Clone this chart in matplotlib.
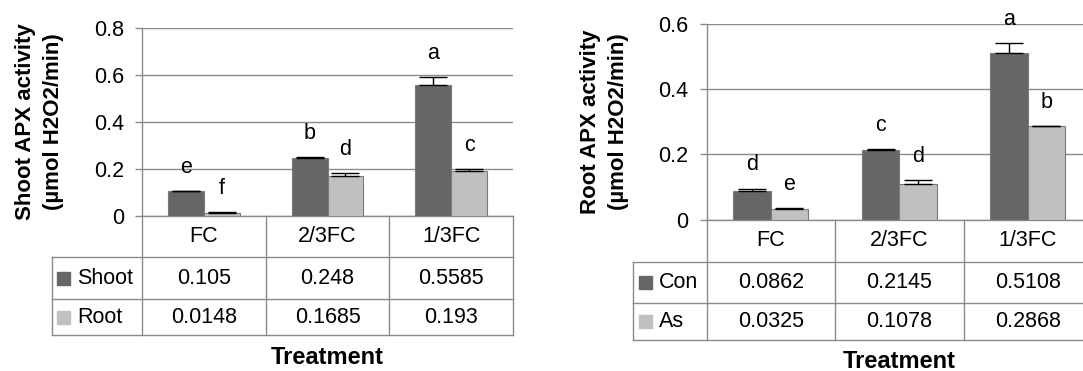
import numpy as np
import matplotlib.pyplot as plt
import matplotlib.ticker as tick
from matplotlib.patches import Rectangle

plt.rcParams['font.family'] = ['Liberation Sans', 'DejaVu Sans']

treatments = ['FC', '2/3FC', '1/3FC']

# left panel: shoot APX
shoot_names = ['Shoot', 'Root']
shoot_vals = [[0.105, 0.248, 0.5585], [0.0148, 0.1685, 0.193]]
shoot_err = [[0.003, 0.004, 0.033], [0.002, 0.014, 0.007]]
shoot_letters = [['e', 'b', 'a'], ['f', 'd', 'c']]

# right panel: root APX
root_names = ['Con', 'As']
root_vals = [[0.0862, 0.2145, 0.5108], [0.0325, 0.1078, 0.2868]]
root_err = [[0.009, 0.0015, 0.031], [0.004, 0.013, 0.001]]
root_letters = [['d', 'c', 'a'], ['e', 'd', 'b']]

colors = ['#666666', '#c0c0c0']
lineCol = '#8a8a8a'

W, H = 1083, 371
fig = plt.figure(figsize=(W / 100, H / 100), dpi=100)


def fx(px):
    return px / W


def fy(py):
    return 1 - py / H


def panel(x0, x1, top, rows, tleft, names, vals, errs, letters,
          ylabel, ymax, ylab_x, treat_y):
    zero = rows[0]
    n = len(treatments)
    ax = fig.add_axes([fx(x0), fy(zero), fx(x1 - x0), (zero - top) / H])
    x = np.arange(n)
    bw = 0.29
    for i in range(len(names)):
        pos = x + (i - 0.5) * bw
        ax.bar(pos, vals[i], bw, color=colors[i], edgecolor='#7a7a7a',
               linewidth=0.8, zorder=3)
        ax.errorbar(pos, vals[i], yerr=[np.zeros(n), errs[i]], fmt='none',
                    ecolor='black', elinewidth=1, capsize=10, capthick=1, zorder=4)
        for p, v, e, lt in zip(pos, vals[i], errs[i], letters[i]):
            ax.annotate(lt, (p, v + e), xytext=(0, 13), textcoords='offset points',
                        ha='center', va='baseline', fontsize=15.5)
    ax.set_xlim(-0.5, n - 0.5)
    ax.set_ylim(0, ymax)
    ax.yaxis.set_major_locator(tick.MultipleLocator(0.2))
    ax.yaxis.set_major_formatter(tick.FuncFormatter(
        lambda v, p: '0' if abs(v) < 1e-9 else '{:.1f}'.format(v)))
    ax.tick_params(axis='y', length=5, width=1, color=lineCol, pad=8, labelsize=15.5)
    ax.tick_params(axis='x', length=0, labelbottom=False)
    ax.yaxis.grid(True, color=lineCol, linewidth=1)
    ax.set_axisbelow(True)
    for s in ['top', 'right']:
        ax.spines[s].set_visible(False)
    for s in ['left', 'bottom']:
        ax.spines[s].set_color(lineCol)
        ax.spines[s].set_linewidth(1)

    # data table under the chart
    tab = fig.add_axes([fx(tleft), fy(rows[-1]), fx(x1 - tleft),
                        (rows[-1] - rows[0]) / H])
    tab.set_xlim(tleft, x1)
    tab.set_ylim(rows[-1], rows[0])
    tab.axis('off')
    colw = (x1 - x0) / n
    for r in rows[1:]:
        tab.plot([tleft, x1], [r, r], color=lineCol, lw=1, clip_on=False)
    tab.plot([tleft, tleft], [rows[1], rows[-1]], color=lineCol, lw=1, clip_on=False)
    for k in range(n + 1):
        xb = x0 + k * colw
        tab.plot([xb, xb], [rows[0], rows[-1]], color=lineCol, lw=1, clip_on=False)
    for k, t in enumerate(treatments):
        tab.text(x0 + (k + 0.5) * colw, (rows[0] + rows[1]) / 2, t,
                 ha='center', va='center', fontsize=15.5)
    for i, nm in enumerate(names):
        ym = (rows[i + 1] + rows[i + 2]) / 2
        tab.add_patch(Rectangle((tleft + 5.5, ym - 6.3), 12.7, 12.7,
                                color=colors[i], clip_on=False))
        tab.text(tleft + 25.5, ym, nm, ha='left', va='center', fontsize=15.5)
        for k in range(n):
            tab.text(x0 + (k + 0.5) * colw, ym, '{:g}'.format(vals[i][k]),
                     ha='center', va='center', fontsize=15.5)

    fig.text(fx(ylab_x), fy((top + zero) / 2), ylabel, rotation=90,
             ha='center', va='center', fontsize=16, fontweight='bold',
             linespacing=1.45)
    fig.text(fx((x0 + x1) / 2), fy(treat_y), 'Treatment', ha='center',
             va='center', fontsize=17, fontweight='bold')


panel(142, 513, 27.7, [216, 257.5, 299, 335.5], 52, shoot_names, shoot_vals,
      shoot_err, shoot_letters, 'Shoot APX activity\n(µmol H2O2/min)', 0.8, 39.5, 358)
panel(706.5, 1092, 24.3, [219.5, 261.5, 303, 339.5], 633.3, root_names, root_vals,
      root_err, root_letters, 'Root APX activity\n(µmol H2O2/min)', 0.6, 604.5, 361)

fig.savefig('out.png', dpi=100)
